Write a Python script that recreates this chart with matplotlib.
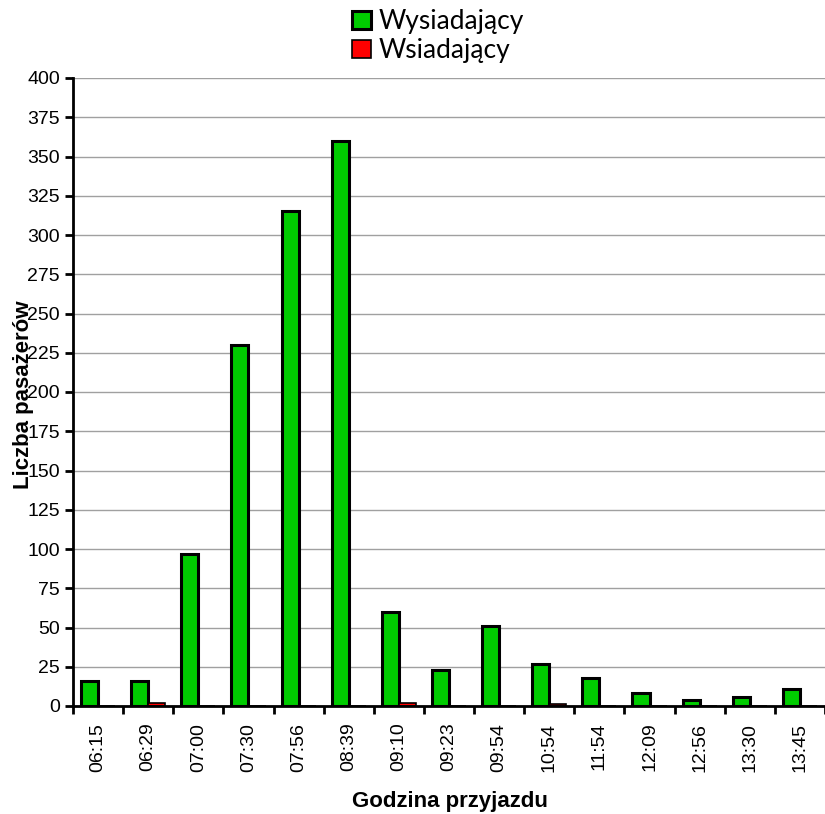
import matplotlib.pyplot as plt
import numpy as np

godziny = ['06:15', '06:29', '07:00', '07:30', '07:56', '08:39', '09:10', '09:23',
           '09:54', '10:54', '11:54', '12:09', '12:56', '13:30', '13:45']
wysiadajacy = [16, 16, 97, 230, 315, 360, 60, 23, 51, 27, 18, 8, 4, 6, 11]
wsiadajacy = [0, 2, 0, 0, 0, 0, 2, 0, 0, 1, 0, 0, 0, 0, 0]

plt.rcParams['font.family'] = ['Liberation Sans Narrow', 'Liberation Sans', 'DejaVu Sans']

fig = plt.figure(figsize=(8.25, 8.14), dpi=100)
ax = fig.add_axes([73/825, 1 - 706/814, 752/825, 628/814])

x = np.arange(len(godziny))
w = 0.34
ax.bar(x - w/2, wysiadajacy, w, color='#00cc00', edgecolor='black', linewidth=2.2,
       label='Wysiadający', zorder=3)
ax.bar(x + w/2, wsiadajacy, w, color='#ff0000', edgecolor='black', linewidth=1.2,
       label='Wsiadający', zorder=3)

ax.set_xlim(-0.5, len(godziny) - 0.5)
ax.set_ylim(0, 400)
ax.set_yticks(np.arange(0, 401, 25))
ax.set_xticks(x)
ax.set_xticklabels(godziny, rotation=90, fontsize=14)
ax.set_xticks(np.arange(-0.5, len(godziny), 1), minor=True)
ax.tick_params(axis='x', which='major', length=0, pad=12)
ax.tick_params(axis='x', which='minor', length=6, width=2, direction='out')
ax.tick_params(axis='y', length=6, width=2, direction='out', labelsize=14)

ax.grid(axis='y', color='#a0a0a0', linewidth=1, zorder=0)
for s in ['top', 'right']:
    ax.spines[s].set_visible(False)
for s in ['left', 'bottom']:
    ax.spines[s].set_linewidth(2)
    ax.spines[s].set_zorder(4)

fig.text(450/825, 1 - 801/814, 'Godzina przyjazdu', fontsize=16, fontweight='bold',
         family=['Liberation Sans', 'DejaVu Sans'], ha='center', va='center')
fig.text(24/825, 1 - 395/814, 'Liczba pasażerów', rotation=90, fontsize=16,
         fontweight='bold', family=['Liberation Sans', 'DejaVu Sans'],
         ha='center', va='center')

leg = fig.legend(loc='center', bbox_to_anchor=(438/825, 1 - 36/814), frameon=False,
                 handlelength=0.7, handleheight=0.7, handletextpad=0.3,
                 labelspacing=0.15, prop={'family': ['Lato', 'DejaVu Sans'], 'size': 19})

fig.savefig('out.png', dpi=100)
